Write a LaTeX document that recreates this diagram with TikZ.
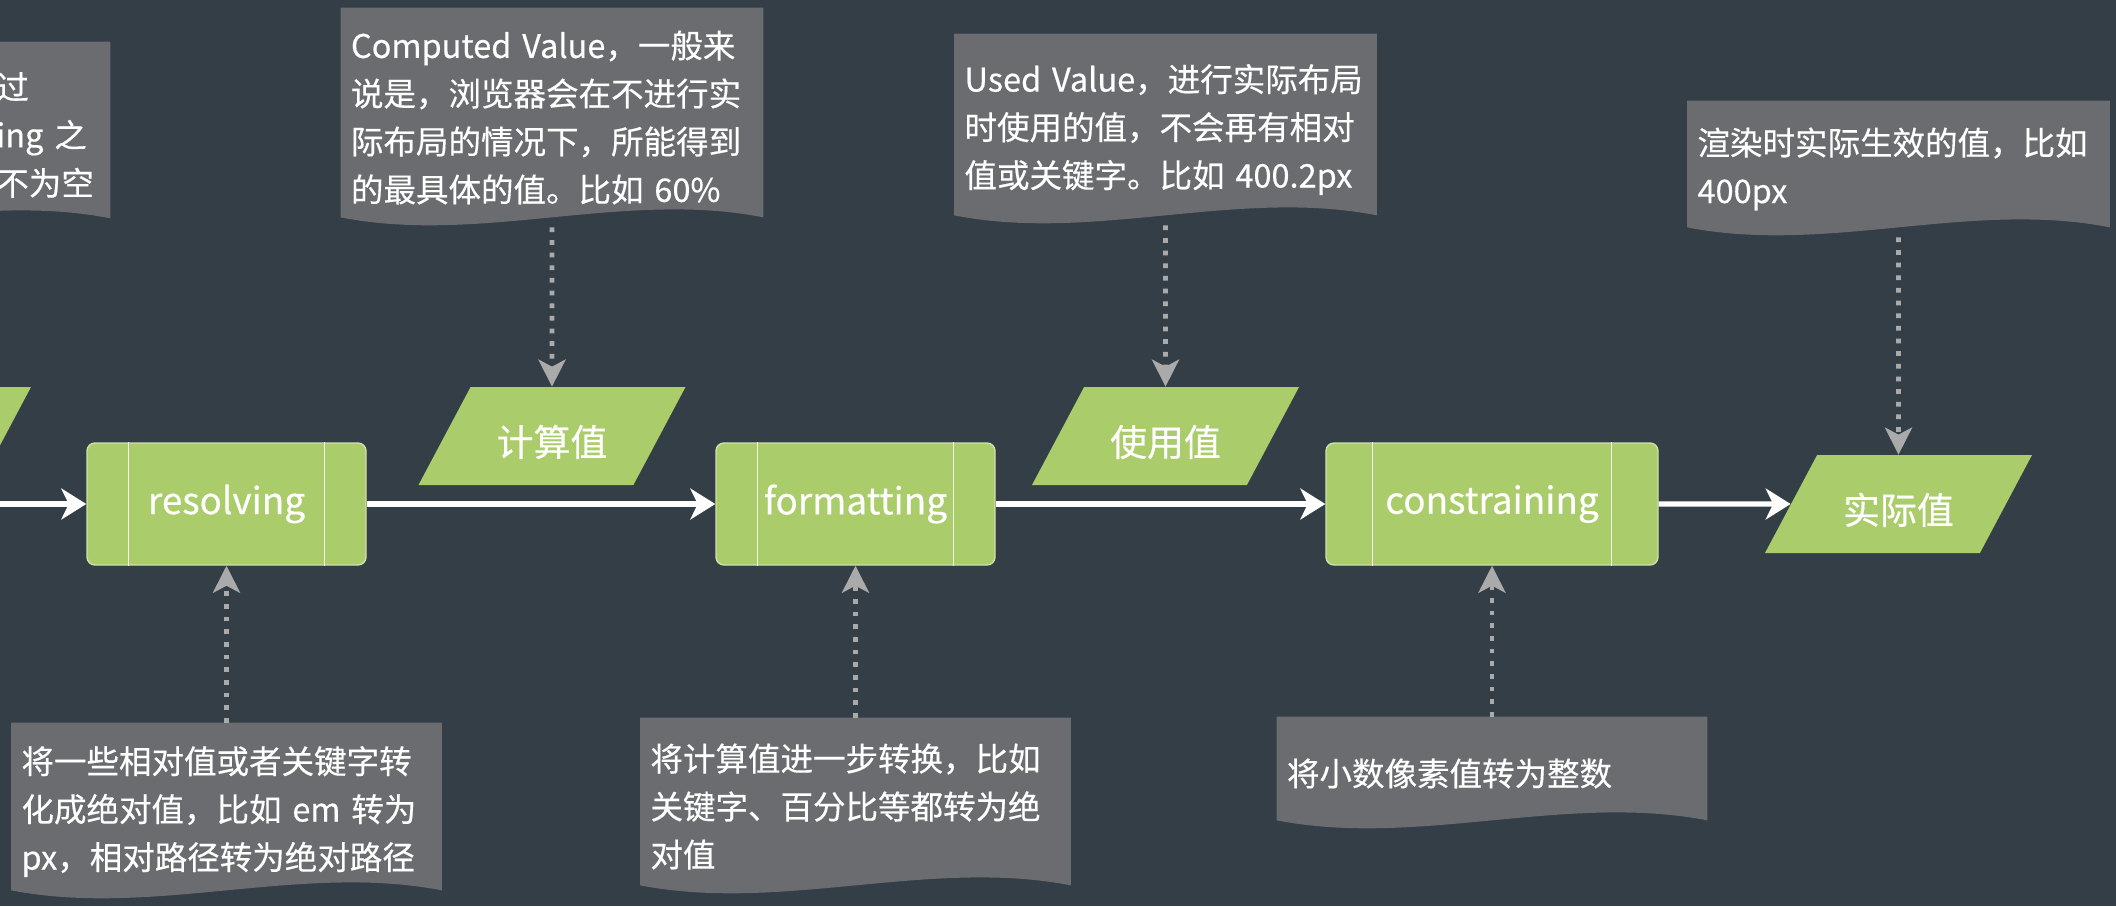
\documentclass[tikz,border=0pt]{standalone}
\usepackage{fontspec}
\setmainfont{Noto Sans CJK SC}[FakeBold=0.4]
\usepackage{xcolor}
\usepackage{tikz}
\usetikzlibrary{arrows.meta, calc, shapes.geometric, backgrounds}
\definecolor{bg-slate}{RGB}{51,62,71}
\definecolor{doc-gray}{RGB}{106,108,112}
\definecolor{step-green}{RGB}{171,204,106}
\definecolor{step-edge}{RGB}{205,224,170}
\definecolor{hint-gray}{RGB}{170,170,170}
\pgfdeclarelayer{canvas}
\pgfsetlayers{canvas,background,main}

% wavy "document" fill behind a note node
\newcommand{\wavedoc}[1]{%
  \begin{scope}[on background layer]
    \fill[doc-gray] (#1.north west) -- (#1.north east) -- ([yshift=2mm]#1.south east)
      .. controls ($(#1.south east)!0.33!(#1.south west)+(0,7.5mm)$)
      and ($(#1.south east)!0.67!(#1.south west)+(0,-3.5mm)$)
      .. ([yshift=2mm]#1.south west) -- cycle;
  \end{scope}}

\begin{document}
\begin{tikzpicture}[
    procbox/.style={rectangle, rounded corners=1.6mm, fill=step-green,
                    draw=step-edge, line width=0.8pt, minimum height=2.44cm,
                    text=white, font=\fontsize{21}{25}\selectfont},
    valbox/.style={trapezium, trapezium left angle=62, trapezium right angle=118,
                   trapezium stretches body, fill=step-green, inner sep=0pt,
                   text height=1.38cm, text depth=0.58cm, minimum width=5.34cm,
                   text=white, font=\fontsize{21}{25}\selectfont},
    docbox/.style={rectangle, inner xsep=2mm, inner ysep=0pt,
                   minimum width=8.44cm, text width=8.04cm, align=left,
                   text=white, font=\fontsize{18.5}{27.3}\selectfont},
    stepline/.style={line width=0.8pt, white!85!step-green},
    flow/.style={-{Stealth[length=5mm, width=6.2mm, inset=1.5mm]},
                 line width=3pt, white},
    hint/.style={-{Stealth[length=5.4mm, width=5.4mm, inset=1.4mm]},
                 line width=2.7pt, hint-gray, dash pattern=on 2.7pt off 4.5pt},
]
\useasboundingbox (0,0) rectangle (42.32,-18.12);
\begin{pgfonlayer}{canvas}
  \fill[bg-slate] (0,0) rectangle (42.32,-18.12);
\end{pgfonlayer}

% process steps
\node[procbox, minimum width=5.58cm] (res) at (4.53,-10.08) {resolving};
\node[procbox, minimum width=5.58cm] (fmt) at (17.11,-10.08) {formatting};
\node[procbox, minimum width=6.64cm] (cons) at (29.84,-10.08) {constraining};

\draw[stepline] ([xshift=8.4mm]res.north west) -- ([xshift=8.4mm]res.south west);
\draw[stepline] ([xshift=-8.4mm]res.north east) -- ([xshift=-8.4mm]res.south east);
\draw[stepline] ([xshift=8.4mm]fmt.north west) -- ([xshift=8.4mm]fmt.south west);
\draw[stepline] ([xshift=-8.4mm]fmt.north east) -- ([xshift=-8.4mm]fmt.south east);
\draw[stepline] ([xshift=9.4mm]cons.north west) -- ([xshift=9.4mm]cons.south west);
\draw[stepline] ([xshift=-9.4mm]cons.north east) -- ([xshift=-9.4mm]cons.south east);

% values
\node[valbox] (prevval) at (-2.05,-8.72) {};
\node[valbox] (cv) at (11.04,-8.72) {计算值};
\node[valbox] (used) at (23.31,-8.72) {使用值};
\node[valbox] (actual) at (37.97,-10.08) {实际值};

% notes
\node[docbox, minimum height=3.72cm] (prevdoc) at (-2.02,-2.7) {};
\node[docbox, minimum width=0pt, text width=2cm, anchor=west] (prevtext)
    at (-0.28,-2.7) {过\\ing 之\\不为空};
\node[docbox, minimum height=4.38cm] (cvdoc) at (11.04,-2.35)
    {Computed Value，一般来\\说是，浏览器会在不进行实\\际布局的情况下，所能得到\\的最具体的值。比如 60\%};
\node[docbox, minimum height=3.82cm] (usedoc) at (23.31,-2.59)
    {Used~Value，进行实际布局\\时使用的值，不会再有相对\\值或关键字。比如 400.2px};
\node[docbox, minimum height=2.72cm] (rdoc) at (37.97,-3.38)
    {渲染时实际生效的值，比如\\400px};
\node[docbox, minimum width=8.6cm, text width=8.2cm, minimum height=3.54cm] (resdoc)
    at (4.53,-16.23)
    {将一些相对值或者关键字转\\化成绝对值，比如 em 转为\\px，相对路径转为绝对路径};
\node[docbox, minimum width=8.6cm, text width=8.2cm, minimum height=3.54cm] (fmtdoc)
    at (17.11,-16.13)
    {将计算值进一步转换，比如\\关键字、百分比等都转为绝\\对值};
\node[docbox, minimum width=8.6cm, text width=8.2cm, minimum height=2.26cm] (consdoc)
    at (29.84,-15.47) {将小数像素值转为整数};

\wavedoc{prevdoc}
\wavedoc{cvdoc}
\wavedoc{usedoc}
\wavedoc{rdoc}
\wavedoc{resdoc}
\wavedoc{fmtdoc}
\wavedoc{consdoc}

% main flow
\coordinate (inflow) at (0,-10.08);
\draw[flow] (inflow) -- (res.west);
\draw[flow] (res.east) -- (fmt.west);
\draw[flow] (fmt.east) -- (cons.west);
\draw[flow] (cons.east) -- (actual);

% dotted hints
\draw[hint] (cvdoc.south) -- (cv);
\draw[hint] (usedoc.south) -- (used);
\draw[hint] (rdoc.south) -- (actual);
\draw[hint] (resdoc.north) -- (res);
\draw[hint] (fmtdoc.north) -- (fmt);
\draw[hint] (consdoc.north) -- (cons);

\end{tikzpicture}
\end{document}
